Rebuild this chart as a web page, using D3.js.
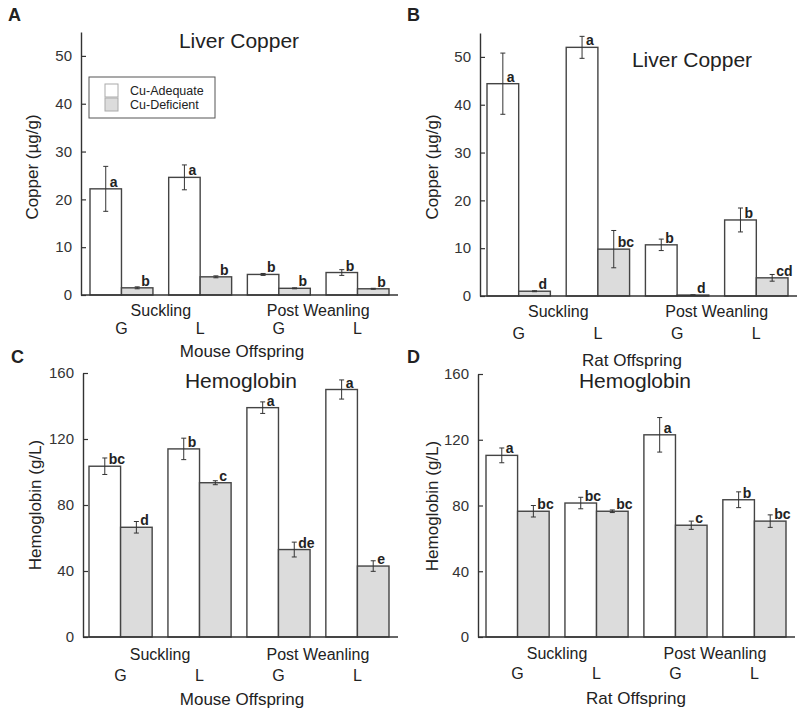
<!DOCTYPE html>
<html>
<head>
<meta charset="utf-8">
<script src="https://cdn.jsdelivr.net/npm/d3@7"></script>
<style>
	body { margin: 0; background: #fff; }
	svg text { font-family: "Liberation Sans", Arial, sans-serif; fill: #222; }
</style>
</head>
<body>
<div id="chart"></div>
<script>
// categories
const groupLabels = ["G", "L", "G", "L"];
const phaseLabels = ["Suckling", "Post Weanling"];
const seriesNames = ["Cu-Adequate", "Cu-Deficient"];

// A: mouse liver copper (ug/g)
const mouseCuAdequate = [22.2, 24.6, 4.3, 4.7];
const mouseCuAdequateErr = [4.7, 2.6, 0.2, 0.6];
const mouseCuDeficient = [1.5, 3.8, 1.4, 1.3];
const mouseCuDeficientErr = [0.2, 0.2, 0.1, 0.1];
const mouseCuLetters = [["a", "a", "b", "b"], ["b", "b", "b", "b"]];

// B: rat liver copper (ug/g)
const ratCuAdequate = [44.4, 52.0, 10.7, 15.9];
const ratCuAdequateErr = [6.4, 2.3, 1.2, 2.5];
const ratCuDeficient = [1.0, 9.8, 0.2, 3.8];
const ratCuDeficientErr = [0.1, 3.9, 0.05, 0.7];
const ratCuLetters = [["a", "a", "b", "b"], ["d", "bc", "d", "cd"]];

// C: mouse hemoglobin (g/L)
const mouseHbAdequate = [103.5, 114, 139, 150];
const mouseHbAdequateErr = [5, 6.5, 3.5, 5.8];
const mouseHbDeficient = [66.5, 93.5, 53, 43];
const mouseHbDeficientErr = [3.5, 1.2, 4.5, 3.2];
const mouseHbLetters = [["bc", "b", "a", "a"], ["d", "c", "de", "e"]];

// D: rat hemoglobin (g/L)
const ratHbAdequate = [110.5, 81.5, 123, 83.5];
const ratHbAdequateErr = [4.5, 3.5, 10.5, 4.8];
const ratHbDeficient = [76.5, 76.5, 68, 70.5];
const ratHbDeficientErr = [3.5, 0.8, 2.5, 3.8];
const ratHbLetters = [["a", "bc", "a", "b"], ["bc", "bc", "c", "bc"]];

const copperTicks = [0, 10, 20, 30, 40, 50];
const hbTicks = [0, 40, 80, 120, 160];

const fills = { "Cu-Adequate": "#ffffff", "Cu-Deficient": "#dcdcdc" };

const svg = d3.select("#chart").append("svg")
	.attr("width", 800)
	.attr("height", 715);

const panels = [
	{
		letter: "A", letterPos: [8, 21],
		x0: 81, x1: 398, yTop: 32, yBot: 295, ymax: 55, ticks: copperTicks,
		barRange: [90, 389],
		values: [mouseCuAdequate, mouseCuDeficient], errs: [mouseCuAdequateErr, mouseCuDeficientErr],
		letters: mouseCuLetters,
		title: "Liver Copper", titlePos: [239, 48],
		yTitle: "Copper (µg/g)", yTitlePos: [38, 167],
		xTitle: "Mouse Offspring", xTitlePos: [242, 357],
		phaseDy: 21, subDy: 39, legend: [89, 77]
	},
	{
		letter: "B", letterPos: [407, 21],
		x0: 480, x1: 797, yTop: 33, yBot: 296, ymax: 55, ticks: copperTicks,
		barRange: [487, 788],
		values: [ratCuAdequate, ratCuDeficient], errs: [ratCuAdequateErr, ratCuDeficientErr],
		letters: ratCuLetters,
		title: "Liver Copper", titlePos: [692, 67],
		yTitle: "Copper (µg/g)", yTitlePos: [438, 167],
		xTitle: "Rat Offspring", xTitlePos: [632, 366],
		phaseDy: 21, subDy: 43
	},
	{
		letter: "C", letterPos: [11, 363],
		x0: 83, x1: 398, yTop: 373, yBot: 637, ymax: 160, ticks: hbTicks,
		barRange: [89, 389],
		values: [mouseHbAdequate, mouseHbDeficient], errs: [mouseHbAdequateErr, mouseHbDeficientErr],
		letters: mouseHbLetters,
		title: "Hemoglobin", titlePos: [241, 388],
		yTitle: "Hemoglobin (g/L)", yTitlePos: [41, 505],
		xTitle: "Mouse Offspring", xTitlePos: [242, 705],
		phaseDy: 23, subDy: 44
	},
	{
		letter: "D", letterPos: [407, 363],
		x0: 478, x1: 795, yTop: 374, yBot: 637, ymax: 160, ticks: hbTicks,
		barRange: [486, 786],
		values: [ratHbAdequate, ratHbDeficient], errs: [ratHbAdequateErr, ratHbDeficientErr],
		letters: ratHbLetters,
		title: "Hemoglobin", titlePos: [635, 388],
		yTitle: "Hemoglobin (g/L)", yTitlePos: [438, 506],
		xTitle: "Rat Offspring", xTitlePos: [636, 704],
		phaseDy: 22, subDy: 42
	}
];

panels.forEach(drawPanel);

function drawPanel(p) {
	const g = svg.append("g");
	const y = d3.scaleLinear().domain([0, p.ymax]).range([p.yBot, p.yTop]);
	const x = d3.scaleBand().domain(d3.range(groupLabels.length)).range(p.barRange)
		.paddingInner(0.2).paddingOuter(0);
	const xs = d3.scaleBand().domain(seriesNames).range([0, x.bandwidth()]);

	const rows = [];
	groupLabels.forEach((lab, i) => {
		seriesNames.forEach((s, j) => {
			rows.push({
				group: i, series: s,
				value: p.values[j][i], err: p.errs[j][i], letter: p.letters[j][i]
			});
		});
	});
	const cx = (d) => x(d.group) + xs(d.series) + xs.bandwidth() / 2;

	// bars
	g.selectAll("rect.bar")
		.data(rows)
		.enter()
		.append("rect")
		.attr("class", "bar")
		.attr("x", (d) => x(d.group) + xs(d.series))
		.attr("width", xs.bandwidth())
		.attr("y", (d) => y(d.value))
		.attr("height", (d) => y(0) - y(d.value))
		.attr("fill", (d) => fills[d.series])
		.attr("stroke", "#444")
		.attr("stroke-width", 1.4);

	// error bars
	const eb = g.selectAll("g.err").data(rows).enter().append("g").attr("class", "err")
		.attr("stroke", "#333").attr("stroke-width", 1);
	eb.append("line")
		.attr("x1", cx).attr("x2", cx)
		.attr("y1", (d) => y(d.value - d.err))
		.attr("y2", (d) => y(d.value + d.err));
	[-1, 1].forEach((sgn) => {
		eb.append("line")
			.attr("x1", (d) => cx(d) - 2.5).attr("x2", (d) => cx(d) + 2.5)
			.attr("y1", (d) => y(d.value + sgn * d.err))
			.attr("y2", (d) => y(d.value + sgn * d.err));
	});

	// significance letters
	g.selectAll("text.sig")
		.data(rows)
		.enter()
		.append("text")
		.attr("class", "sig")
		.attr("x", (d) => cx(d) + 4)
		.attr("y", (d) => y(d.value) - 2)
		.attr("font-size", "14px")
		.attr("font-weight", "bold")
		.text((d) => d.letter);

	// y axis, ticks pointing inward
	const yAxis = g.append("g")
		.attr("transform", `translate(${p.x0},0)`)
		.call(d3.axisLeft(y).tickValues(p.ticks).tickSizeInner(-5).tickSizeOuter(0).tickPadding(9));
	yAxis.attr("font-family", null).attr("font-size", null);
	yAxis.selectAll("text").attr("font-size", "15px").style("fill", "#333");
	yAxis.selectAll("line").attr("stroke", "#333").attr("stroke-width", 1.2);
	yAxis.select(".domain").attr("stroke", "#333").attr("stroke-width", 1.4);

	// x axis line
	g.append("line")
		.attr("x1", p.x0).attr("x2", p.x1)
		.attr("y1", p.yBot).attr("y2", p.yBot)
		.attr("stroke", "#333")
		.attr("stroke-width", 1.4);

	// G / L labels
	g.selectAll("text.sub")
		.data(groupLabels)
		.enter()
		.append("text")
		.attr("class", "sub")
		.attr("x", (d, i) => x(i) + x.bandwidth() / 2)
		.attr("y", p.yBot + p.subDy)
		.attr("text-anchor", "middle")
		.attr("font-size", "16px")
		.text((d) => d);

	// phase labels centred over their pair of groups
	g.selectAll("text.phase")
		.data(phaseLabels)
		.enter()
		.append("text")
		.attr("class", "phase")
		.attr("x", (d, k) => (x(2 * k) + x(2 * k + 1) + x.bandwidth()) / 2)
		.attr("y", p.yBot + p.phaseDy)
		.attr("text-anchor", "middle")
		.attr("font-size", "16px")
		.text((d) => d);

	g.append("text")
		.attr("x", p.xTitlePos[0]).attr("y", p.xTitlePos[1])
		.attr("text-anchor", "middle")
		.attr("font-size", "17px")
		.text(p.xTitle);

	g.append("text")
		.attr("transform", `translate(${p.yTitlePos[0]},${p.yTitlePos[1]}) rotate(-90)`)
		.attr("text-anchor", "middle")
		.attr("font-size", "17px")
		.text(p.yTitle);

	g.append("text")
		.attr("x", p.titlePos[0]).attr("y", p.titlePos[1])
		.attr("text-anchor", "middle")
		.attr("font-size", "21px")
		.text(p.title);

	g.append("text")
		.attr("x", p.letterPos[0]).attr("y", p.letterPos[1])
		.attr("font-size", "18px")
		.attr("font-weight", "bold")
		.text(p.letter);

	if (p.legend) drawLegend(g, p.legend);
}

function drawLegend(g, pos) {
	const lg = g.append("g").attr("transform", `translate(${pos[0]},${pos[1]})`);
	lg.append("rect")
		.attr("width", 126).attr("height", 41)
		.attr("fill", "#fff")
		.attr("stroke", "#555")
		.attr("stroke-width", 1);
	const items = lg.selectAll("g.item")
		.data(seriesNames)
		.enter()
		.append("g")
		.attr("class", "item")
		.attr("transform", (d, i) => `translate(16,${7 + i * 14})`);
	items.append("rect")
		.attr("width", 13).attr("height", 13)
		.attr("fill", (d) => fills[d])
		.attr("stroke", "#aaa")
		.attr("stroke-width", 1);
	items.append("text")
		.attr("x", 25).attr("y", 11)
		.attr("font-size", "12.5px")
		.text((d) => d);
}
</script>
</body>
</html>
